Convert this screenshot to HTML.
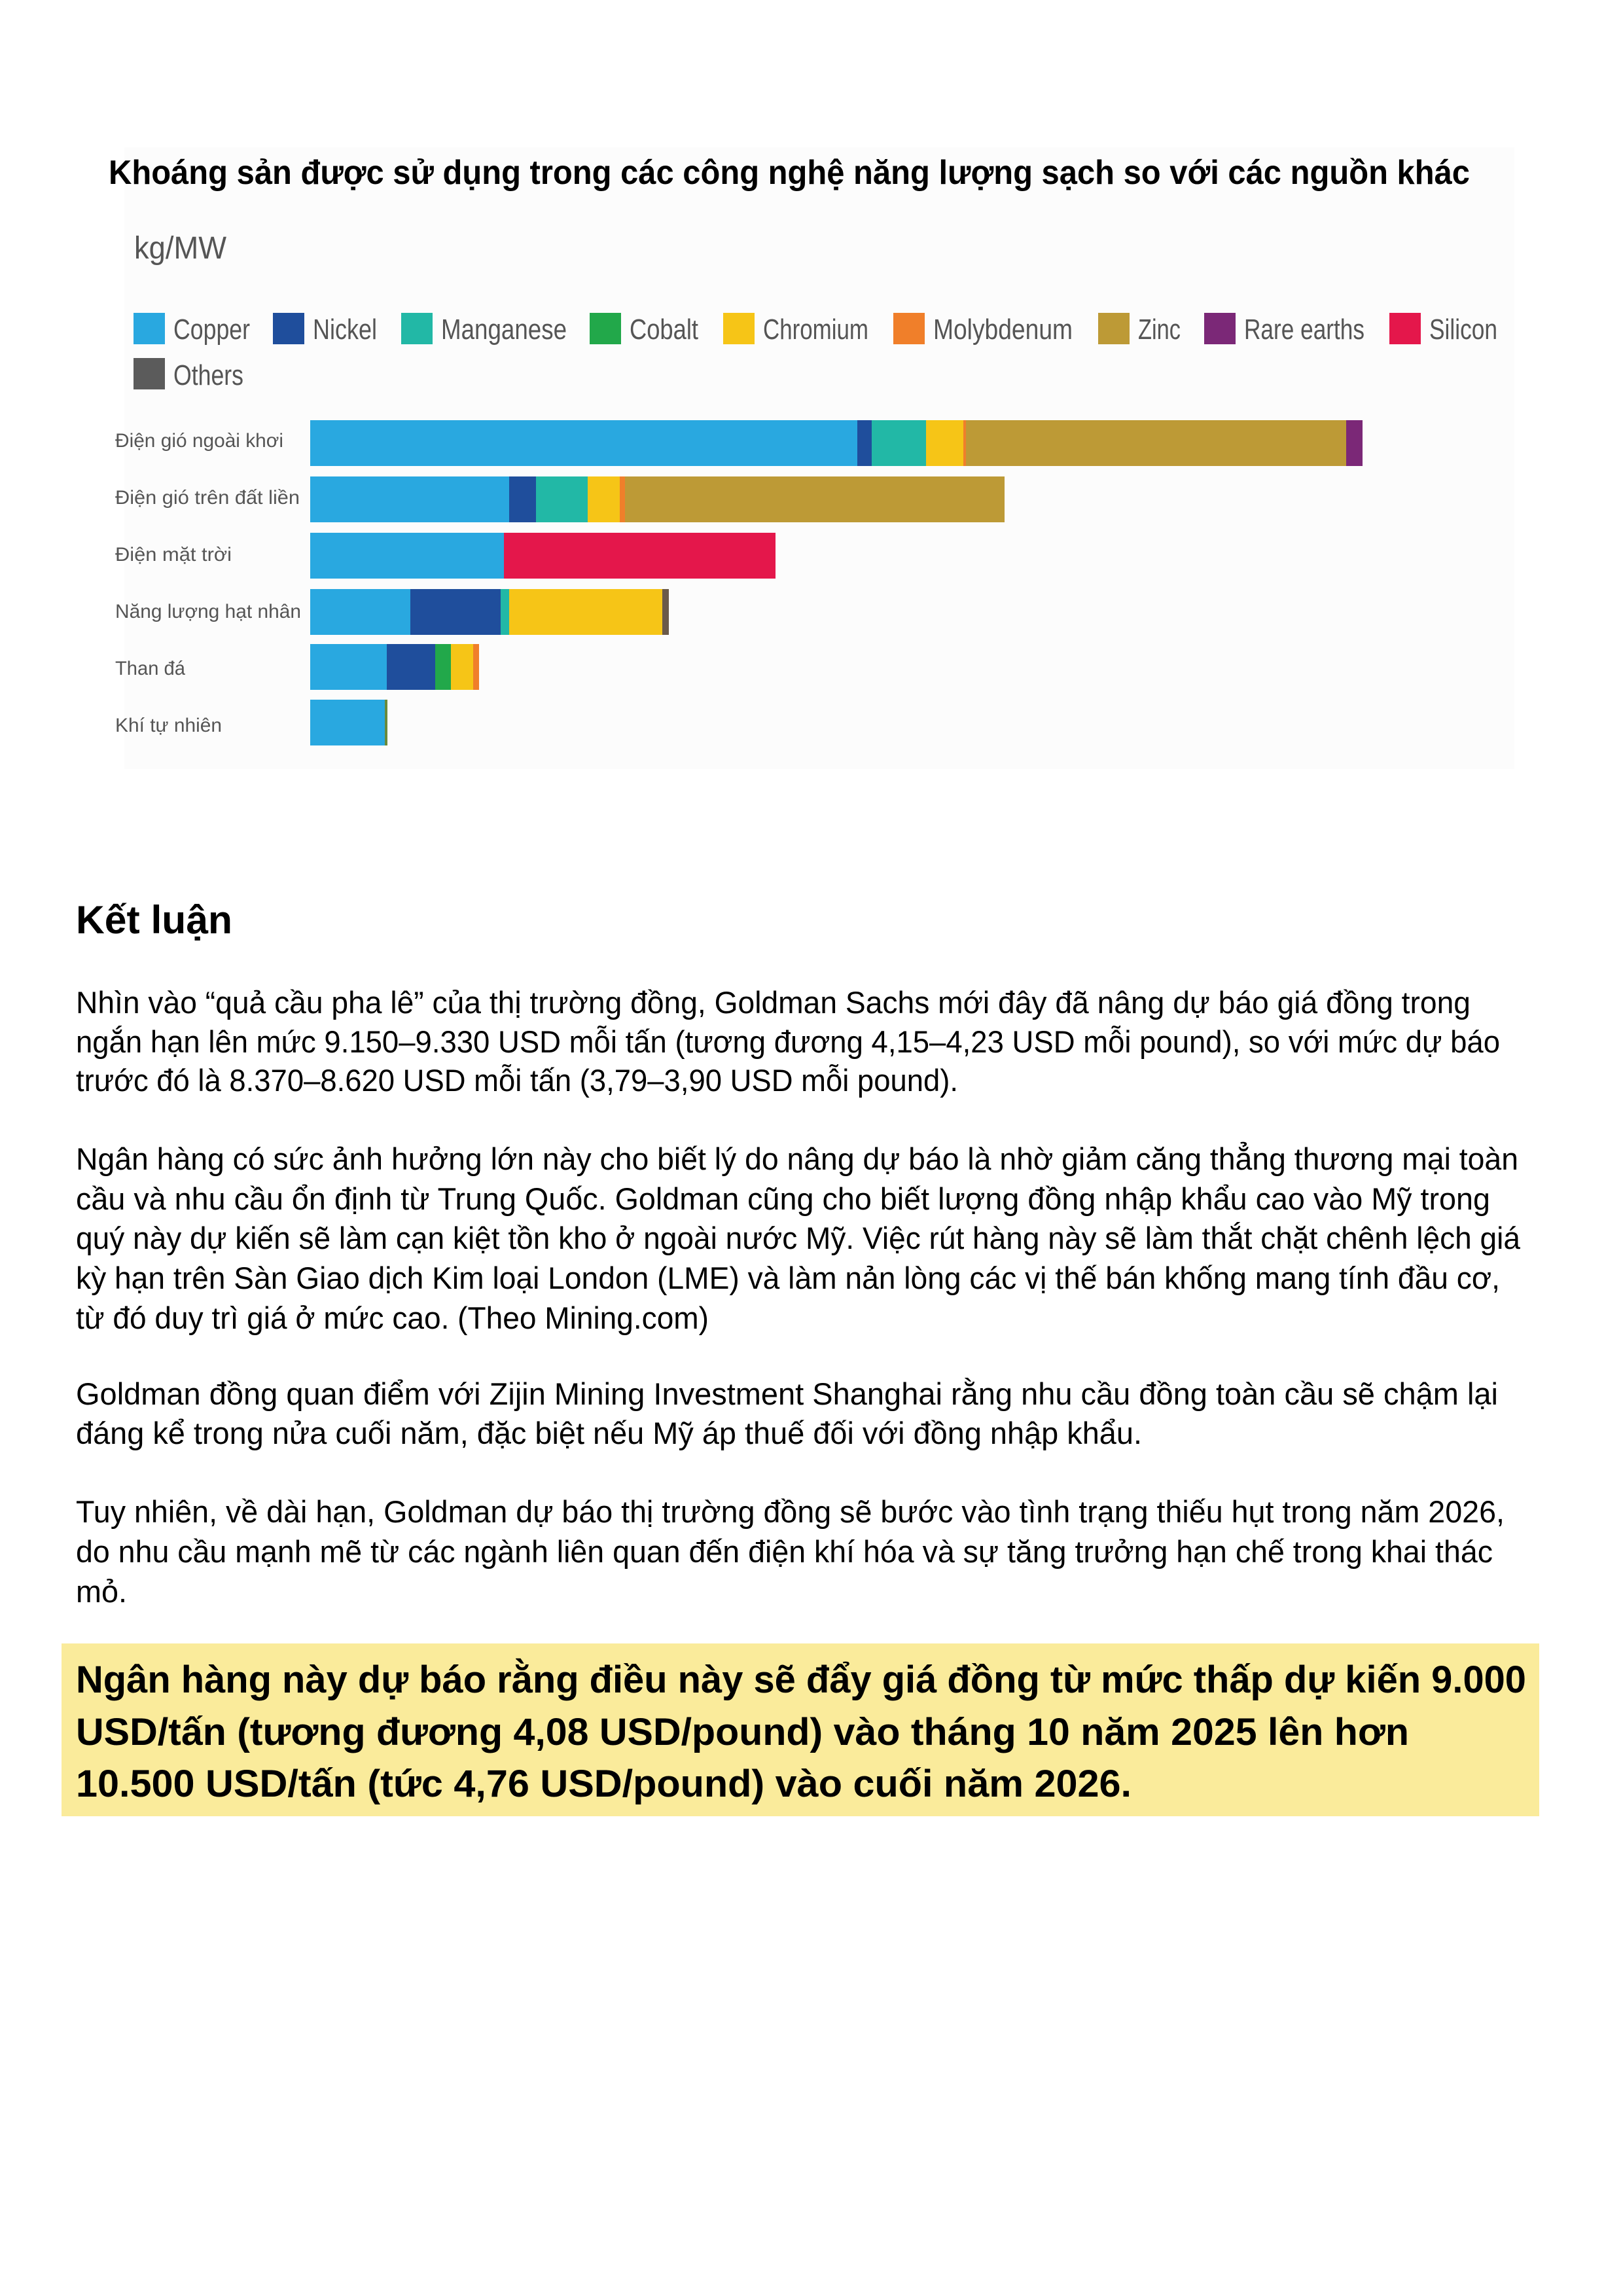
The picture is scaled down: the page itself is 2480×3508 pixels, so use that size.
<!DOCTYPE html>
<html><head><meta charset="utf-8"><style>
html,body{margin:0;padding:0;background:#fff;}
svg{display:block;}
</style></head><body>
<svg width="2480" height="3508" viewBox="0 0 2480 3508" xmlns="http://www.w3.org/2000/svg">
<rect width="2480" height="3508" fill="#fff"/>
<rect x="190" y="225" width="2124" height="950" fill="#fcfcfc"/>
<g font-family="'Liberation Sans', sans-serif">
<text x="166" y="281" font-size="52" font-weight="bold" fill="#000" textLength="2080" lengthAdjust="spacingAndGlyphs">Khoáng sản được sử dụng trong các công nghệ năng lượng sạch so với các nguồn khác</text>
<text x="205" y="395" font-size="48" fill="#555" textLength="141" lengthAdjust="spacingAndGlyphs">kg/MW</text>
<g font-size="44" fill="#555">
<rect x="204" y="478" width="48" height="48" fill="#29a8e0"/><text x="265" y="518" textLength="117" lengthAdjust="spacingAndGlyphs">Copper</text>
<rect x="417" y="478" width="48" height="48" fill="#1f4e9c"/><text x="478" y="518" textLength="98" lengthAdjust="spacingAndGlyphs">Nickel</text>
<rect x="613" y="478" width="48" height="48" fill="#22b8a6"/><text x="674" y="518" textLength="192" lengthAdjust="spacingAndGlyphs">Manganese</text>
<rect x="901" y="478" width="48" height="48" fill="#22a84a"/><text x="962" y="518" textLength="105" lengthAdjust="spacingAndGlyphs">Cobalt</text>
<rect x="1105" y="478" width="48" height="48" fill="#f6c517"/><text x="1166" y="518" textLength="161" lengthAdjust="spacingAndGlyphs">Chromium</text>
<rect x="1365" y="478" width="48" height="48" fill="#f07f2a"/><text x="1426" y="518" textLength="213" lengthAdjust="spacingAndGlyphs">Molybdenum</text>
<rect x="1678" y="478" width="48" height="48" fill="#bd9a36"/><text x="1739" y="518" textLength="65" lengthAdjust="spacingAndGlyphs">Zinc</text>
<rect x="1840" y="478" width="48" height="48" fill="#7b2877"/><text x="1901" y="518" textLength="184" lengthAdjust="spacingAndGlyphs">Rare earths</text>
<rect x="2123" y="478" width="48" height="48" fill="#e4174b"/><text x="2184" y="518" textLength="104" lengthAdjust="spacingAndGlyphs">Silicon</text>
<rect x="204" y="547" width="48" height="48" fill="#5b5b5b"/><text x="265" y="588" textLength="107" lengthAdjust="spacingAndGlyphs">Others</text>
</g>
<g font-size="30" fill="#555">
<text x="176" y="683" textLength="257" lengthAdjust="spacingAndGlyphs">Điện gió ngoài khơi</text>
<text x="176" y="770" textLength="282" lengthAdjust="spacingAndGlyphs">Điện gió trên đất liền</text>
<text x="176" y="857" textLength="178" lengthAdjust="spacingAndGlyphs">Điện mặt trời</text>
<text x="176" y="944" textLength="284" lengthAdjust="spacingAndGlyphs">Năng lượng hạt nhân</text>
<text x="176" y="1031" textLength="107" lengthAdjust="spacingAndGlyphs">Than đá</text>
<text x="176" y="1118" textLength="163" lengthAdjust="spacingAndGlyphs">Khí tự nhiên</text>
</g>
<g>
<rect x="474" y="642" width="836" height="70" fill="#29a8e0"/>
<rect x="1310" y="642" width="22" height="70" fill="#1f4e9c"/>
<rect x="1332" y="642" width="83" height="70" fill="#22b8a6"/>
<rect x="1415" y="642" width="57" height="70" fill="#f6c517"/>
<rect x="1472" y="642" width="4" height="70" fill="#f07f2a"/>
<rect x="1476" y="642" width="581" height="70" fill="#bd9a36"/>
<rect x="2057" y="642" width="25" height="70" fill="#7b2877"/>

<rect x="474" y="728" width="304" height="70" fill="#29a8e0"/>
<rect x="778" y="728" width="41" height="70" fill="#1f4e9c"/>
<rect x="819" y="728" width="79" height="70" fill="#22b8a6"/>
<rect x="898" y="728" width="49" height="70" fill="#f6c517"/>
<rect x="947" y="728" width="8" height="70" fill="#f07f2a"/>
<rect x="955" y="728" width="580" height="70" fill="#bd9a36"/>

<rect x="474" y="814" width="296" height="70" fill="#29a8e0"/>
<rect x="770" y="814" width="415" height="70" fill="#e4174b"/>

<rect x="474" y="900" width="153" height="70" fill="#29a8e0"/>
<rect x="627" y="900" width="138" height="70" fill="#1f4e9c"/>
<rect x="765" y="900" width="13" height="70" fill="#22b8a6"/>
<rect x="778" y="900" width="234" height="70" fill="#f6c517"/>
<rect x="1012" y="900" width="10" height="70" fill="#6b5a4a"/>

<rect x="474" y="984" width="117" height="70" fill="#29a8e0"/>
<rect x="591" y="984" width="74" height="70" fill="#1f4e9c"/>
<rect x="665" y="984" width="24" height="70" fill="#22a84a"/>
<rect x="689" y="984" width="34" height="70" fill="#f6c517"/>
<rect x="723" y="984" width="9" height="70" fill="#f07f2a"/>

<rect x="474" y="1069" width="114" height="70" fill="#29a8e0"/>
<rect x="588" y="1069" width="4" height="70" fill="#6a8a3a"/>
</g>

<text x="116" y="1426" font-size="60" font-weight="bold" fill="#000" textLength="239" lengthAdjust="spacingAndGlyphs">Kết luận</text>

<g font-size="47" fill="#000">
<text x="116" y="1548" textLength="2131" lengthAdjust="spacingAndGlyphs">Nhìn vào “quả cầu pha lê” của thị trường đồng, Goldman Sachs mới đây đã nâng dự báo giá đồng trong</text>
<text x="116" y="1608" textLength="2176" lengthAdjust="spacingAndGlyphs">ngắn hạn lên mức 9.150–9.330 USD mỗi tấn (tương đương 4,15–4,23 USD mỗi pound), so với mức dự báo</text>
<text x="116" y="1667" textLength="1348" lengthAdjust="spacingAndGlyphs">trước đó là 8.370–8.620 USD mỗi tấn (3,79–3,90 USD mỗi pound).</text>

<text x="116" y="1787" textLength="2204" lengthAdjust="spacingAndGlyphs">Ngân hàng có sức ảnh hưởng lớn này cho biết lý do nâng dự báo là nhờ giảm căng thẳng thương mại toàn</text>
<text x="116" y="1848" textLength="2161" lengthAdjust="spacingAndGlyphs">cầu và nhu cầu ổn định từ Trung Quốc. Goldman cũng cho biết lượng đồng nhập khẩu cao vào Mỹ trong</text>
<text x="116" y="1908" textLength="2207" lengthAdjust="spacingAndGlyphs">quý này dự kiến sẽ làm cạn kiệt tồn kho ở ngoài nước Mỹ. Việc rút hàng này sẽ làm thắt chặt chênh lệch giá</text>
<text x="116" y="1969" textLength="2176" lengthAdjust="spacingAndGlyphs">kỳ hạn trên Sàn Giao dịch Kim loại London (LME) và làm nản lòng các vị thế bán khống mang tính đầu cơ,</text>
<text x="116" y="2030" textLength="967" lengthAdjust="spacingAndGlyphs">từ đó duy trì giá ở mức cao. (Theo Mining.com)</text>

<text x="116" y="2146" textLength="2173" lengthAdjust="spacingAndGlyphs">Goldman đồng quan điểm với Zijin Mining Investment Shanghai rằng nhu cầu đồng toàn cầu sẽ chậm lại</text>
<text x="116" y="2206" textLength="1629" lengthAdjust="spacingAndGlyphs">đáng kể trong nửa cuối năm, đặc biệt nếu Mỹ áp thuế đối với đồng nhập khẩu.</text>

<text x="116" y="2326" textLength="2183" lengthAdjust="spacingAndGlyphs">Tuy nhiên, về dài hạn, Goldman dự báo thị trường đồng sẽ bước vào tình trạng thiếu hụt trong năm 2026,</text>
<text x="116" y="2387" textLength="2165" lengthAdjust="spacingAndGlyphs">do nhu cầu mạnh mẽ từ các ngành liên quan đến điện khí hóa và sự tăng trưởng hạn chế trong khai thác</text>
<text x="116" y="2448" textLength="78" lengthAdjust="spacingAndGlyphs">mỏ.</text>
</g>

<rect x="94" y="2511" width="2258" height="264" fill="#faeb9b"/>
<g font-size="58" font-weight="bold" fill="#000">
<text x="116" y="2586" textLength="2216" lengthAdjust="spacingAndGlyphs">Ngân hàng này dự báo rằng điều này sẽ đẩy giá đồng từ mức thấp dự kiến 9.000</text>
<text x="116" y="2666" textLength="2037" lengthAdjust="spacingAndGlyphs">USD/tấn (tương đương 4,08 USD/pound) vào tháng 10 năm 2025 lên hơn</text>
<text x="116" y="2745" textLength="1613" lengthAdjust="spacingAndGlyphs">10.500 USD/tấn (tức 4,76 USD/pound) vào cuối năm 2026.</text>
</g>
</g>
</svg>
</body></html>
